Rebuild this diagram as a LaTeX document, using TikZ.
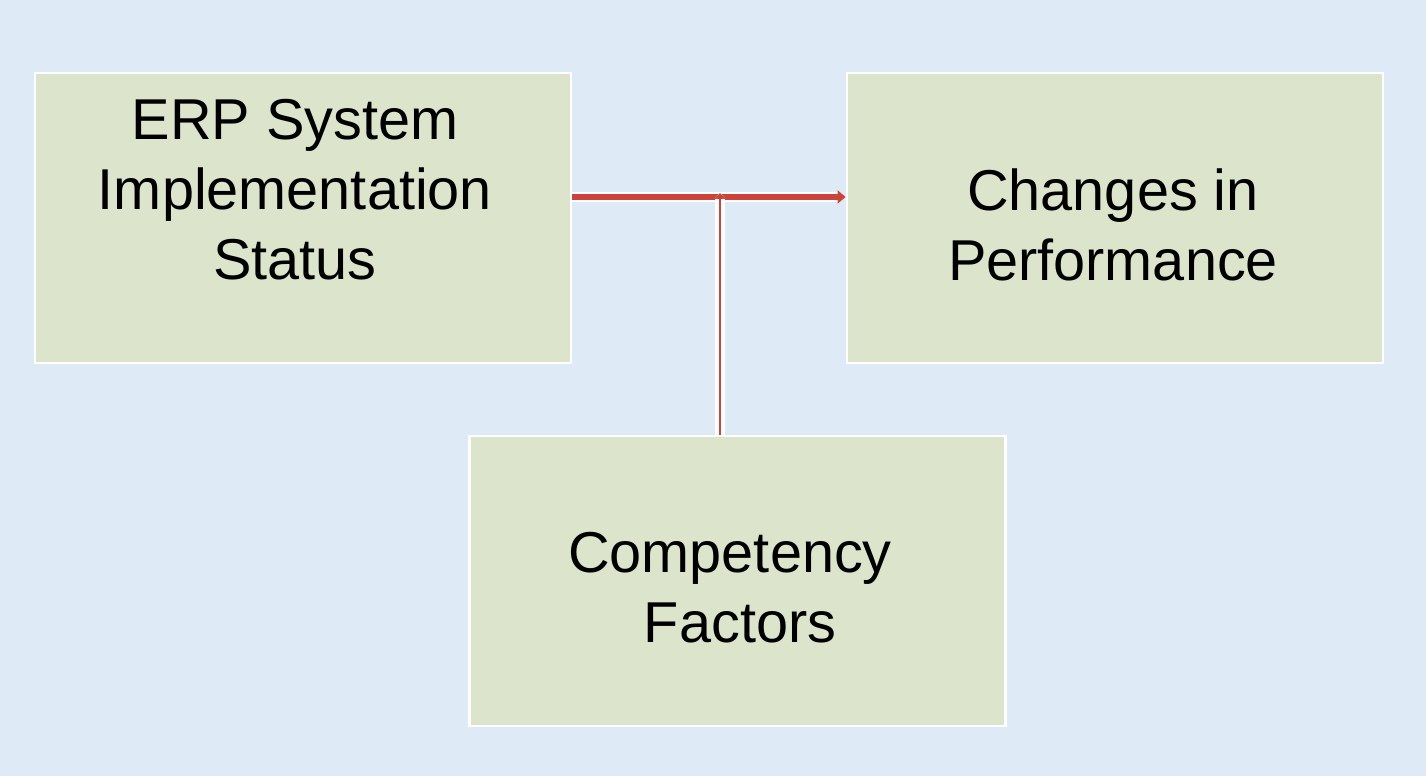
\documentclass[tikz,border=0pt]{standalone}
\usepackage{fontspec}
\setmainfont{Liberation Sans}
\usepackage{xcolor}
\usetikzlibrary{arrows.meta}

\definecolor{bgblue}{HTML}{DEEAF6}
\definecolor{boxgreen}{HTML}{DCE5CB}
\definecolor{linkred}{HTML}{C9443A}

\begin{document}
\begin{tikzpicture}[
    box/.style={draw=white, line width=0.8pt, fill=boxgreen, minimum width=5.36cm, minimum height=2.9cm, inner sep=0pt},
    txt/.style={align=center, font=\fontsize{16.4}{19.9}\selectfont, inner sep=0pt},
    link/.style={draw=linkred, line width=1.6pt, preaction={draw=white, line width=2.8pt}}
]
    % Background
    \useasboundingbox[fill=bgblue] (0,0) rectangle (14.26,7.76);

    % ERP box
    \node[box] (erp) at (3.03,5.58) {};
    \node[txt] (erptxt) at (2.95,5.86) {ERP System\\Implementation\\Status};

    % Performance box
    \node[box] (perf) at (11.15,5.58) {};
    \node[txt] (perftxt) at (11.13,5.51) {Changes in\\Performance};

    % Competency box
    \node[box] (comp) at (7.375,1.95) {};
    \node[txt] (comptxt) at (7.30,1.88) {Competency\\\hspace*{0.2cm}Factors};

    % Junction of the two links
    \coordinate (jn) at (7.20,5.79);

    % Link from ERP to Performance
    \draw[link, -{Triangle[length=0.08cm, width=0.13cm]}] (erp.east |- jn) -- (perf.west |- jn);

    % Link from Competency up to the junction
    \draw[link, line width=0.8pt, preaction={draw=white, line width=2.1pt}, -{Triangle[length=0.06cm, width=0.1cm]}] (comp.north -| jn) -- ([yshift=0.04cm]jn);
\end{tikzpicture}
\end{document}
